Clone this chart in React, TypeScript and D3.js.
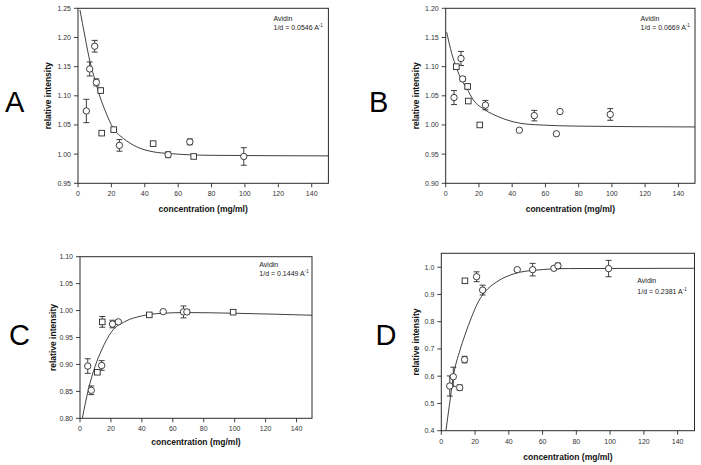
import React from "react";
import * as d3 from "d3";

// ---- data (x mg/ml, y relative intensity, error) ----
const xTicks = [0, 20, 40, 60, 80, 100, 120, 140];

const circlesA = [[5, 1.074, 0.02], [7, 1.146, 0.012], [10, 1.185, 0.01], [11, 1.123, 0.006], [24.8, 1.015, 0.01], [54, 0.999, 0.005], [67, 1.021, 0.005], [99.3, 0.996, 0.015]];
const squaresA = [[13.6, 1.109, 0.004], [14.2, 1.036, 0], [21.4, 1.042, 0.003], [45, 1.018, 0], [69.3, 0.996, 0]];
const curveA = [[1.2, 1.247], [4.2, 1.201], [7.2, 1.158], [10.2, 1.127], [13.2, 1.098], [16.2, 1.075], [21.2, 1.044], [27.2, 1.027], [35.2, 1.0125], [45, 1.004], [55, 1.001], [79, 0.998], [150, 0.997]];
const yTicksA = [0.95, 1.0, 1.05, 1.1, 1.15, 1.2, 1.25];

const circlesB = [[5, 1.047, 0.012], [9.2, 1.114, 0.012], [10.2, 1.079, 0.004], [23.9, 1.034, 0.008], [44.3, 0.991, 0], [53.3, 1.016, 0.009], [66.6, 0.985, 0], [68.8, 1.023, 0], [99, 1.018, 0.01]];
const squaresB = [[6.4, 1.1, 0.002], [13.2, 1.066, 0.004], [13.6, 1.041, 0], [20.5, 1.0, 0]];
const curveB = [[0.6, 1.159], [3.6, 1.123], [6.6, 1.097], [9.6, 1.077], [12.6, 1.063], [16.6, 1.043], [23.6, 1.026], [32.7, 1.013], [44.7, 1.003], [56.7, 1.0], [80, 0.998], [150, 0.9966]];
const yTicksB = [0.9, 0.95, 1.0, 1.05, 1.1, 1.15, 1.2];

const circlesC = [[5, 0.897, 0.0135], [7.3, 0.852, 0.008], [14, 0.898, 0.009], [21, 0.975, 0.007], [24.8, 0.979, 0], [53.8, 0.998, 0], [66.9, 0.9975, 0.011], [69.1, 0.9975, 0.004]];
const squaresC = [[11.2, 0.8855, 0.002], [14.4, 0.979, 0.01], [44.8, 0.992, 0], [99, 0.997, 0.002]];
const curveC = [[1.5, 0.8], [5.4, 0.853], [9.7, 0.896], [14, 0.927], [20.5, 0.961], [29.1, 0.9796], [39.9, 0.99], [52.8, 0.995], [67.9, 0.9963], [100, 0.995], [150, 0.9913]];
const yTicksC = [0.8, 0.85, 0.9, 0.95, 1.0, 1.05, 1.1];

const circlesD = [[5, 0.564, 0.037], [7.1, 0.598, 0.035], [10.9, 0.558, 0.01], [13.8, 0.661, 0.012], [20.9, 0.965, 0.018], [24.5, 0.916, 0.018], [45, 0.991, 0], [54.1, 0.991, 0.023], [66.7, 0.996, 0], [69.1, 1.005, 0.01], [99.1, 0.995, 0.03]];
const squaresD = [[14, 0.95, 0.007]];
const curveD = [[2.8, 0.4025], [5.2, 0.5125], [7.1, 0.598], [11.1, 0.696], [14, 0.751], [18, 0.818], [21.9, 0.873], [25.9, 0.9095], [32.8, 0.946], [43.7, 0.977], [55.5, 0.989], [75.2, 0.995], [150, 0.996]];
const yTicksD = [0.4, 0.5, 0.6, 0.7, 0.8, 0.9, 1.0];

const labels = ["A", "B", "C", "D"];
const fitValues = ["0.0546", "0.0669", "0.1449", "0.2381"];

const INK = "#2a2a2a";
const FONT = "Arial, 'Liberation Sans', Helvetica, sans-serif";

type PanelProps = {
  box: { l: number; r: number; t: number; b: number };
  yDomain: [number, number];
  yTicks: number[];
  yFmt: string;
  circles: number[][];
  squares: number[][];
  curve: number[][];
  letter: string;
  letterPos: [number, number];
  fit: string;
  annPos: [number, number, number];
  yLabelX: number;
  xLabelY: number;
};

function Panel(p: PanelProps) {
  const x = d3.scaleLinear().domain([0, 150]).range([p.box.l, p.box.r]);
  const y = d3.scaleLinear().domain(p.yDomain).range([p.box.b, p.box.t]);
  const line = d3
    .line<number[]>()
    .x((d) => x(d[0]))
    .y((d) => y(d[1]))
    .curve(d3.curveMonotoneX);
  const fmt = d3.format(p.yFmt);
  const cap = 3;
  const errBar = (d: number[], i: number, key: string) =>
    d[2] > 0 ? (
      <g key={key + i} stroke={INK} strokeWidth={0.9}>
        <line x1={x(d[0])} x2={x(d[0])} y1={y(d[1] - d[2])} y2={y(d[1] + d[2])} />
        <line x1={x(d[0]) - cap} x2={x(d[0]) + cap} y1={y(d[1] - d[2])} y2={y(d[1] - d[2])} />
        <line x1={x(d[0]) - cap} x2={x(d[0]) + cap} y1={y(d[1] + d[2])} y2={y(d[1] + d[2])} />
      </g>
    ) : null;
  const midX = (p.box.l + p.box.r) / 2;
  const midY = (p.box.t + p.box.b) / 2;
  return (
    <g fontFamily={FONT}>
      <text x={p.letterPos[0]} y={p.letterPos[1]} fontSize={29} fill="#000">
        {p.letter}
      </text>
      <rect x={p.box.l} y={p.box.t} width={p.box.r - p.box.l} height={p.box.b - p.box.t} fill="none" stroke={INK} strokeWidth={1} />
      {p.yTicks.map((t) => (
        <g key={"y" + t}>
          <line x1={p.box.l - 4} x2={p.box.l} y1={y(t)} y2={y(t)} stroke={INK} strokeWidth={0.9} />
          <text x={p.box.l - 7} y={y(t) + 2.5} textAnchor="end" fontSize={7} fill="#333">
            {fmt(t)}
          </text>
        </g>
      ))}
      {xTicks.map((t) => (
        <g key={"x" + t}>
          <line x1={x(t)} x2={x(t)} y1={p.box.b} y2={p.box.b + 4} stroke={INK} strokeWidth={0.9} />
          <text x={x(t)} y={p.box.b + 13} textAnchor="middle" fontSize={7} fill="#333">
            {t}
          </text>
        </g>
      ))}
      <text x={midX} y={p.xLabelY} textAnchor="middle" fontSize={8.5} fontWeight="bold" fill="#111">
        concentration (mg/ml)
      </text>
      <text
        transform={`translate(${p.yLabelX},${midY}) rotate(-90)`}
        textAnchor="middle"
        fontSize={8.5}
        fontWeight="bold"
        fill="#111"
      >
        relative intensity
      </text>
      <path d={line(p.curve) || ""} fill="none" stroke={INK} strokeWidth={0.9} />
      {p.circles.map((d, i) => errBar(d, i, "ce"))}
      {p.squares.map((d, i) => errBar(d, i, "se"))}
      {p.circles.map((d, i) => (
        <circle key={"c" + i} cx={x(d[0])} cy={y(d[1])} r={3.2} fill="white" stroke={INK} strokeWidth={0.9} />
      ))}
      {p.squares.map((d, i) => (
        <rect key={"s" + i} x={x(d[0]) - 2.8} y={y(d[1]) - 2.8} width={5.6} height={5.6} fill="white" stroke={INK} strokeWidth={0.9} />
      ))}
      <text x={p.annPos[0]} y={p.annPos[1]} fontSize={7} fill="#222">
        Avidin
      </text>
      <text x={p.annPos[0]} y={p.annPos[2]} fontSize={7} fill="#222">
        {`1/d = ${p.fit} A`}
        <tspan dy={-2.5} fontSize={4.5}>
          -1
        </tspan>
      </text>
    </g>
  );
}

export default function App() {
  return (
    <svg width={701} height={465} style={{ position: "absolute", left: 0, top: 0, background: "#fff" }}>
      <rect width={701} height={465} fill="#fff" />
      <Panel
        box={{ l: 78, r: 328.4, t: 8.3, b: 183.3 }}
        yDomain={[0.95, 1.25]}
        yTicks={yTicksA}
        yFmt=".2f"
        circles={circlesA}
        squares={squaresA}
        curve={curveA}
        letter={labels[0]}
        letterPos={[5, 112]}
        fit={fitValues[0]}
        annPos={[273.5, 20.5, 29.5]}
        yLabelX={51}
        xLabelY={212}
      />
      <Panel
        box={{ l: 445.7, r: 695, t: 8.3, b: 183.3 }}
        yDomain={[0.9, 1.2]}
        yTicks={yTicksB}
        yFmt=".2f"
        circles={circlesB}
        squares={squaresB}
        curve={curveB}
        letter={labels[1]}
        letterPos={[369, 111.5]}
        fit={fitValues[1]}
        annPos={[640.5, 20.5, 29.5]}
        yLabelX={418.5}
        xLabelY={212}
      />
      <Panel
        box={{ l: 80, r: 312, t: 256.7, b: 418.3 }}
        yDomain={[0.8, 1.1]}
        yTicks={yTicksC}
        yFmt=".2f"
        circles={circlesC}
        squares={squaresC}
        curve={curveC}
        letter={labels[2]}
        letterPos={[9, 345]}
        fit={fitValues[2]}
        annPos={[259.3, 267, 275.5]}
        yLabelX={56}
        xLabelY={444.5}
      />
      <Panel
        box={{ l: 441.3, r: 694.5, t: 253.3, b: 430.7 }}
        yDomain={[0.4, 1.051]}
        yTicks={yTicksD}
        yFmt=".1f"
        circles={circlesD}
        squares={squaresD}
        curve={curveD}
        letter={labels[3]}
        letterPos={[375.5, 345]}
        fit={fitValues[3]}
        annPos={[637.3, 282.5, 293.5]}
        yLabelX={418.5}
        xLabelY={459.5}
      />
    </svg>
  );
}
